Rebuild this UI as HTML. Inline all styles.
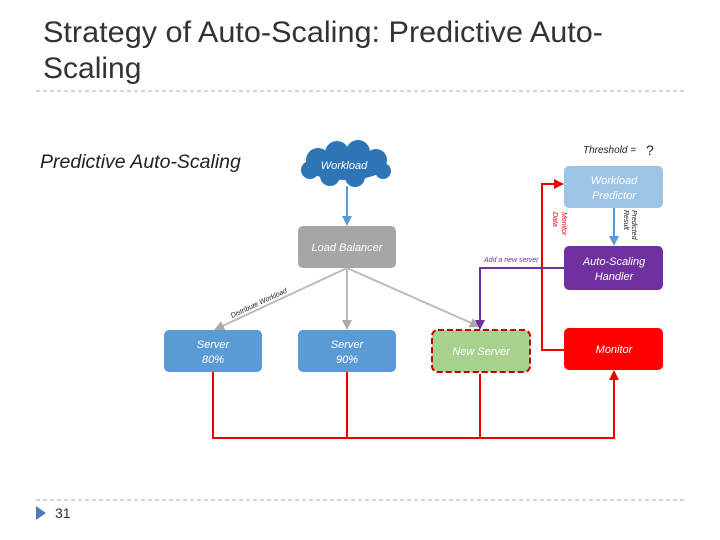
<!DOCTYPE html>
<html><head><style>body{margin:0;background:#fff}svg{display:block}</style></head><body>
<svg width="720" height="540" xmlns="http://www.w3.org/2000/svg" font-family="Liberation Sans, sans-serif">
<defs>
<marker id="ar" markerWidth="5" markerHeight="5" refX="4" refY="2.5" orient="auto"><path d="M0,0L5,2.5L0,5z" fill="#e00"/></marker>
<marker id="ab" markerWidth="5" markerHeight="5" refX="4" refY="2.5" orient="auto"><path d="M0,0L5,2.5L0,5z" fill="#5b9bd5"/></marker>
<marker id="ag" markerWidth="5" markerHeight="5" refX="4" refY="2.5" orient="auto"><path d="M0,0L5,2.5L0,5z" fill="#aaa"/></marker>
<marker id="ap" markerWidth="5" markerHeight="5" refX="4" refY="2.5" orient="auto"><path d="M0,0L5,2.5L0,5z" fill="#7030a0"/></marker>
</defs>
<text x="43" y="42" font-size="30" fill="#333" textLength="560" lengthAdjust="spacingAndGlyphs">Strategy of Auto-Scaling: Predictive Auto-</text>
<text x="43" y="78" font-size="30" fill="#333">Scaling</text>
<line x1="36" y1="91" x2="686" y2="91" stroke="#aaa" stroke-dasharray="4,3"/>
<line x1="36" y1="500" x2="686" y2="500" stroke="#aaa" stroke-dasharray="4,3"/>
<path d="M36,506L46,513L36,520z" fill="#4a7ebb"/>
<text x="55" y="518" font-size="14" fill="#333">31</text>
<text x="40" y="168" font-size="19.5" font-style="italic" fill="#222">Predictive Auto-Scaling</text>
<g fill="#2e75b6">
<ellipse cx="345" cy="166" rx="40" ry="14"/><circle cx="318" cy="160" r="12"/><circle cx="337" cy="153" r="12"/><circle cx="358" cy="152" r="12"/><circle cx="376" cy="160" r="11"/><circle cx="330" cy="176" r="10"/><circle cx="355" cy="177" r="10"/><circle cx="310" cy="170" r="9"/><circle cx="383" cy="171" r="8"/>
</g>
<text x="344" y="169" font-size="11" font-style="italic" fill="#fff" text-anchor="middle">Workload</text>
<line x1="347" y1="186" x2="347" y2="224" stroke="#5b9bd5" stroke-width="2" marker-end="url(#ab)"/>
<line x1="347" y1="268" x2="216" y2="329" stroke="#bbb" stroke-width="2" marker-end="url(#ag)"/>
<line x1="347" y1="268" x2="347" y2="328" stroke="#bbb" stroke-width="2" marker-end="url(#ag)"/>
<line x1="347" y1="268" x2="478" y2="326" stroke="#bbb" stroke-width="2" marker-end="url(#ag)"/>
<text x="0" y="0" font-size="7" font-style="italic" fill="#222" transform="translate(232,318) rotate(-25)">Distribute Workload</text>
<path d="M213,372V438H614V372" fill="none" stroke="#e00" stroke-width="2" marker-end="url(#ar)"/>
<line x1="347" y1="372" x2="347" y2="438" stroke="#e00" stroke-width="2"/>
<line x1="480" y1="374" x2="480" y2="438" stroke="#e00" stroke-width="2"/>
<path d="M564,350H542V184H562" fill="none" stroke="#e00" stroke-width="2" marker-end="url(#ar)"/>
<path d="M564,268H480V328" fill="none" stroke="#7030a0" stroke-width="2" marker-end="url(#ap)"/>
<line x1="614" y1="208" x2="614" y2="244" stroke="#5b9bd5" stroke-width="2" marker-end="url(#ab)"/>
<text x="484" y="262" font-size="7" font-style="italic" fill="#7030a0">Add a new server</text>
<text font-size="7" font-style="italic" fill="#e00" transform="translate(562,212) rotate(90)">Monitor</text>
<text font-size="7" font-style="italic" fill="#e00" transform="translate(553,212) rotate(90)">Data</text>
<text font-size="7" font-style="italic" fill="#222" transform="translate(632,210) rotate(90)">Predicted</text>
<text font-size="7" font-style="italic" fill="#222" transform="translate(624,210) rotate(90)">Result</text>
<text x="583" y="153" font-size="10" font-style="italic" fill="#222">Threshold =</text>
<text x="646" y="155" font-size="14" fill="#222">?</text>
<rect x="298" y="226" width="98" height="42" rx="5" fill="#a6a6a6"/>
<text x="347" y="251" font-size="11" font-style="italic" fill="#fff" text-anchor="middle">Load Balancer</text>
<rect x="164" y="330" width="98" height="42" rx="5" fill="#5b9bd5"/>
<text x="213" y="348" font-size="11" font-style="italic" fill="#fff" text-anchor="middle">Server</text>
<text x="213" y="363" font-size="11" font-style="italic" fill="#fff" text-anchor="middle">80%</text>
<rect x="298" y="330" width="98" height="42" rx="5" fill="#5b9bd5"/>
<text x="347" y="348" font-size="11" font-style="italic" fill="#fff" text-anchor="middle">Server</text>
<text x="347" y="363" font-size="11" font-style="italic" fill="#fff" text-anchor="middle">90%</text>
<rect x="432" y="330" width="98" height="42" rx="6" fill="#a9d18e" stroke="#c00000" stroke-width="2" stroke-dasharray="6,3"/>
<text x="481" y="355" font-size="11" font-style="italic" fill="#fff" text-anchor="middle">New Server</text>
<rect x="564" y="166" width="99" height="42" rx="5" fill="#9dc3e6"/>
<text x="614" y="184" font-size="11" font-style="italic" fill="#fff" text-anchor="middle">Workload</text>
<text x="614" y="199" font-size="11" font-style="italic" fill="#fff" text-anchor="middle">Predictor</text>
<rect x="564" y="246" width="99" height="44" rx="5" fill="#7030a0"/>
<text x="614" y="265" font-size="11" font-style="italic" fill="#fff" text-anchor="middle">Auto-Scaling</text>
<text x="614" y="280" font-size="11" font-style="italic" fill="#fff" text-anchor="middle">Handler</text>
<rect x="564" y="328" width="99" height="42" rx="5" fill="#ff0000"/>
<text x="614" y="353" font-size="11" font-style="italic" fill="#fff" text-anchor="middle">Monitor</text>
</svg>
</body></html>
